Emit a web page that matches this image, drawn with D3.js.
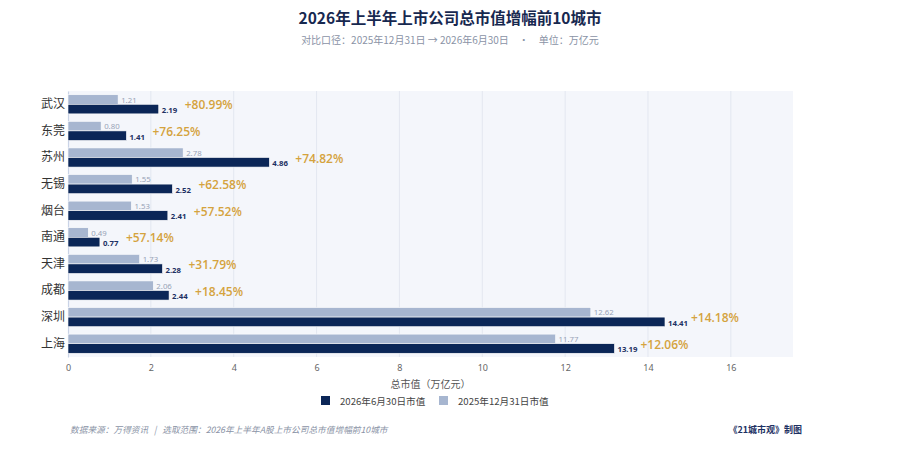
<!DOCTYPE html>
<html>
<head>
<meta charset="utf-8">
<script src="https://cdn.jsdelivr.net/npm/d3@7"></script>
<style>
  body { margin: 0; background: #fff; font-family: "Noto Sans CJK SC", "Noto Sans", sans-serif; }
</style>
</head>
<body>
<script>
// top 10 cities by H1-2026 market cap growth (万亿元)
const cities = ['武汉', '东莞', '苏州', '无锡', '烟台', '南通', '天津', '成都', '深圳', '上海'];
const value2026 = [2.19, 1.41, 4.86, 2.52, 2.41, 0.77, 2.28, 2.44, 14.41, 13.19];
const value2025 = [1.21, 0.80, 2.78, 1.55, 1.53, 0.49, 1.73, 2.06, 12.62, 11.77];
const growth = [80.99, 76.25, 74.82, 62.58, 57.52, 57.14, 31.79, 18.45, 14.18, 12.06];
const xTicks = [0, 2, 4, 6, 8, 10, 12, 14, 16];

const W = 900, H = 472;
const margin = { top: 91, right: 107, bottom: 115, left: 68 };
const DARK = '#0b2657', LIGHT = '#a7b6d0', GOLD = '#d4a33e';

const svg = d3.select('body').append('svg')
  .attr('width', W)
  .attr('height', H);

const x = d3.scaleLinear().domain([0, 17.5]).range([margin.left, W - margin.right]);
const y = d3.scaleBand().domain(cities).range([margin.top, H - margin.bottom]).paddingInner(0.28).paddingOuter(0.14);
const bh = y.bandwidth() / 2;

// title block
svg.append('text')
  .attr('x', 450).attr('y', 24)
  .attr('text-anchor', 'middle')
  .attr('font-size', 15.5).attr('font-weight', 700)
  .attr('fill', '#17284f')
  .text('2026年上半年上市公司总市值增幅前10城市');
svg.append('text')
  .attr('x', 450).attr('y', 44)
  .attr('text-anchor', 'middle')
  .attr('font-size', 10)
  .attr('fill', '#8a93a6')
  .text('对比口径：2025年12月31日 → 2026年6月30日　·　单位：万亿元');

// plot background + grid
svg.append('rect')
  .attr('x', margin.left).attr('y', margin.top)
  .attr('width', W - margin.right - margin.left)
  .attr('height', H - margin.bottom - margin.top)
  .attr('fill', '#f4f6fb');

svg.append('g').selectAll('line')
  .data(xTicks.slice(1))
  .join('line')
  .attr('x1', d => x(d)).attr('x2', d => x(d))
  .attr('y1', margin.top).attr('y2', H - margin.bottom)
  .attr('stroke', '#e3e7f0').attr('stroke-width', 1);

// x axis
const xAxis = svg.append('g')
  .attr('transform', `translate(0,${H - margin.bottom})`)
  .call(d3.axisBottom(x).tickValues(xTicks).tickSize(0).tickPadding(8));
xAxis.select('.domain').remove();
xAxis.selectAll('text').attr('font-size', 9).attr('fill', '#666').attr('font-family', '"Noto Sans", sans-serif');

// y axis
const yAxis = svg.append('g')
  .attr('transform', `translate(${margin.left},0)`)
  .call(d3.axisLeft(y).tickSize(0).tickPadding(3));
yAxis.select('.domain').attr('stroke', '#c9d3e6').attr('stroke-width', 1.2);
yAxis.selectAll('text').attr('font-size', 12).attr('fill', '#333').attr('font-family', '"Noto Sans CJK SC", sans-serif');

const rows = cities.map((c, i) => ({ c, a: value2025[i], b: value2026[i], g: growth[i] }));
const g = svg.append('g');

// 2025 bars
g.selectAll('.old').data(rows).join('rect')
  .attr('class', 'old')
  .attr('x', x(0)).attr('y', d => y(d.c))
  .attr('width', d => x(d.a) - x(0)).attr('height', bh)
  .attr('fill', LIGHT).attr('stroke', '#fff').attr('stroke-width', 0.6);

// 2026 bars
g.selectAll('.new').data(rows).join('rect')
  .attr('class', 'new')
  .attr('x', x(0)).attr('y', d => y(d.c) + bh)
  .attr('width', d => x(d.b) - x(0)).attr('height', bh)
  .attr('fill', DARK).attr('stroke', '#fff').attr('stroke-width', 0.6);

// value labels
g.selectAll('.oldLbl').data(rows).join('text')
  .attr('x', d => x(d.a) + 3).attr('y', d => y(d.c) + bh / 2 + 3)
  .attr('font-size', 7.8).attr('fill', '#98a3b7')
  .attr('font-family', '"Noto Sans", sans-serif')
  .text(d => d.a.toFixed(2));

g.selectAll('.newLbl').data(rows).join('text')
  .attr('x', d => x(d.b) + 3).attr('y', d => y(d.c) + bh * 1.5 + 4)
  .attr('font-size', 7.8).attr('font-weight', 700).attr('fill', '#1d3163')
  .attr('font-family', '"Noto Sans", sans-serif')
  .text(d => d.b.toFixed(2));

g.selectAll('.pct').data(rows).join('text')
  .attr('x', d => x(d.b) + 26).attr('y', d => y(d.c) + bh + 5)
  .attr('font-size', 12).attr('font-weight', 600).attr('fill', GOLD)
  .attr('font-family', '"Open Sans", "Noto Sans", sans-serif')
  .text(d => '+' + d.g.toFixed(2) + '%');

// axis title
svg.append('text')
  .attr('x', (margin.left + W - margin.right) / 2).attr('y', 388)
  .attr('text-anchor', 'middle')
  .attr('font-size', 10).attr('fill', '#555')
  .text('总市值（万亿元）');

// legend
const legend = [
  { label: '2026年6月30日市值', color: DARK, x: 321 },
  { label: '2025年12月31日市值', color: LIGHT, x: 439 }
];
const lg = svg.append('g').selectAll('g').data(legend).join('g')
  .attr('transform', d => `translate(${d.x},396)`);
lg.append('rect').attr('width', 9).attr('height', 9).attr('fill', d => d.color);
lg.append('text').attr('x', 19).attr('y', 8.5)
  .attr('font-size', 9.6).attr('fill', '#444')
  .text(d => d.label);

// footer
svg.append('text')
  .attr('x', 70).attr('y', 433)
  .attr('font-size', 8.7).attr('font-style', 'italic').attr('fill', '#8a93a6')
  .attr('xml:space', 'preserve')
  .text('数据来源：万得资讯   |   选取范围：2026年上半年A股上市公司总市值增幅前10城市');
svg.append('text')
  .attr('x', 802).attr('y', 433)
  .attr('text-anchor', 'end')
  .attr('font-size', 9).attr('font-weight', 700).attr('fill', '#1d3163')
  .text('《21城市观》制图');
</script>
</body>
</html>
